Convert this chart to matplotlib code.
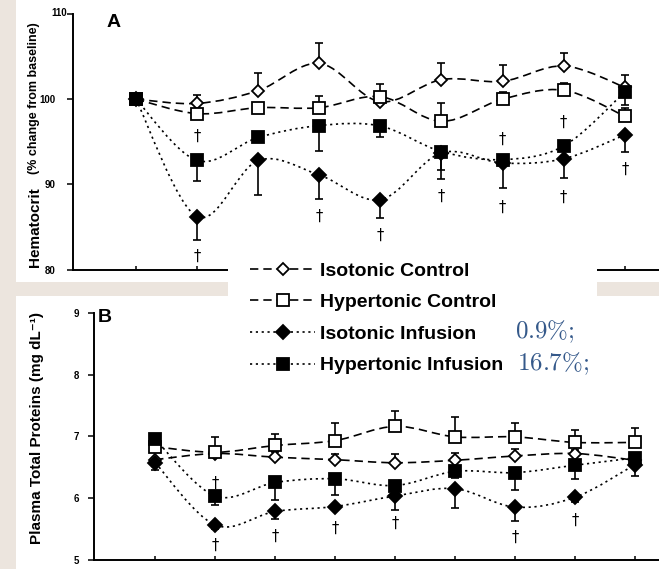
import numpy as np
import matplotlib
matplotlib.use('Agg')
import matplotlib.pyplot as plt
from matplotlib.path import Path
from matplotlib.patches import PathPatch, Rectangle
from matplotlib.lines import Line2D

# sampling times (index of each measurement)
times = list(range(9))

# Panel A: hematocrit, % change from baseline
hct_iso_ctrl = [100, 99.5, 101.0, 104.2, 99.7, 102.3, 102.1, 103.9, 101.4]
hct_iso_ctrl_err = [0, 1.0, 2.1, 2.4, 0.8, 2.0, 1.9, 1.5, 1.4]
hct_hyp_ctrl = [100, 98.3, 99.0, 99.0, 100.3, 97.4, 100.0, 101.05, 98.0]
hct_hyp_ctrl_err = [0, 0.4, 0.4, 1.4, 1.5, 2.2, 0.8, 0.8, 1.0]
hct_iso_inf = [100, 86.2, 92.8, 91.1, 88.2, 93.7, 92.5, 93.0, 95.8]
hct_iso_inf_err = [0, 2.7, 4.1, 2.8, 2.1, 3.1, 2.9, 2.25, 1.95]
hct_hyp_inf = [100, 92.8, 95.5, 96.9, 96.85, 93.85, 92.9, 94.5, 100.85]
hct_hyp_inf_err = [0, 2.4, 0.3, 3.0, 1.3, 2.2, 0.5, 0.5, 1.5]
hct_dagger_x = [1, 1, 3, 4, 5, 6, 6, 7, 7, 8]
hct_dagger_y = [95.6, 81.5, 86.3, 84.0, 88.6, 95.3, 87.3, 97.3, 88.5, 91.8]

# Panel B: plasma total proteins (mg/dL)
tp_iso_ctrl = [6.62, 6.72, 6.66, 6.62, 6.57, 6.61, 6.68, 6.72, 6.61]
tp_iso_ctrl_err = [0, 0, 0.08, 0.1, 0.15, 0.12, 0.12, 0.05, 0.1]
tp_hyp_ctrl = [6.83, 6.74, 6.85, 6.93, 7.16, 6.99, 6.99, 6.90, 6.90]
tp_hyp_ctrl_err = [0.05, 0.24, 0.18, 0.29, 0.25, 0.33, 0.22, 0.20, 0.24]
tp_iso_inf = [6.57, 5.56, 5.78, 5.86, 6.03, 6.15, 5.85, 6.01, 6.54]
tp_iso_inf_err = [0.12, 0.06, 0.13, 0.06, 0.22, 0.31, 0.22, 0.08, 0.19]
tp_hyp_inf = [6.95, 6.03, 6.25, 6.31, 6.20, 6.43, 6.41, 6.53, 6.65]
tp_hyp_inf_err = [0.05, 0.14, 0.28, 0.26, 0.10, 0.10, 0.28, 0.22, 0.10]
tp_dagger_x = [1, 1, 2, 3, 4, 6, 7]
tp_dagger_y = [6.23, 5.23, 5.37, 5.50, 5.59, 5.36, 5.64]

labels = ['Isotonic Control', 'Hypertonic Control', 'Isotonic Infusion', 'Hypertonic Infusion']
conc_labels = [r'$0.9\%;$', r'$16.7\%;$']

DASH = (0, (5, 3))
DOT = (0, (1.3, 2.2))
styles = [
    dict(marker='D', mfc='white', ms=6.5, ls=DASH),
    dict(marker='s', mfc='white', ms=8, ls=DASH),
    dict(marker='D', mfc='black', ms=6.8, ls=DOT),
    dict(marker='s', mfc='black', ms=8.5, ls=DOT),
]
# error bars go up for the controls, down for the infusions
err_up = [True, True, False, False]

BOLD = dict(family=['Liberation Sans', 'DejaVu Sans'], weight='bold')


def smooth_path(x, y):
    pts = np.column_stack([x, y]).astype(float)
    n = len(pts)
    verts = [pts[0]]
    codes = [Path.MOVETO]
    for i in range(n - 1):
        p0 = pts[max(i - 1, 0)]
        p1 = pts[i]
        p2 = pts[i + 1]
        p3 = pts[min(i + 2, n - 1)]
        verts += [p1 + (p2 - p0) / 6, p2 - (p3 - p1) / 6, p2]
        codes += [Path.CURVE4] * 3
    return Path(verts, codes)


def draw_panel(ax, series, errs, dag_x, dag_y, dag_size):
    for k, (vals, err) in enumerate(zip(series, errs)):
        st = styles[k]
        ax.add_patch(PathPatch(smooth_path(times, vals), fill=False, ec='black',
                               lw=1.2, ls=st['ls'], zorder=2 + k * 0.1))
        zeros = [0] * len(err)
        yerr = [zeros, err] if err_up[k] else [err, zeros]
        ax.errorbar(times, vals, yerr=yerr, fmt='none', ecolor='black',
                    elinewidth=1.2, capsize=3, capthick=1.2, zorder=2.5 + k * 0.1)
        ax.plot(times, vals, ls='none', marker=st['marker'], mfc=st['mfc'],
                mec='black', mew=1.3, ms=st['ms'], zorder=3 + k * 0.1)
    for dx, dy in zip(dag_x, dag_y):
        ax.text(dx, dy, '\u2020', ha='center', va='center', fontsize=dag_size,
                family='DejaVu Sans')
    ax.set_facecolor('none')
    for side in ['top', 'right']:
        ax.spines[side].set_visible(False)
    for side in ['left', 'bottom']:
        ax.spines[side].set_linewidth(1.4)
    ax.set_xticks(times)
    ax.tick_params(axis='x', direction='in', length=3, width=1.1, labelbottom=False)


W, H = 659, 569
fig = plt.figure(figsize=(W / 100, H / 100), dpi=100, facecolor='#ece5de')

# white page areas of the scan
fig.add_artist(Rectangle((16 / W, 1 - 282 / H), 1, 282 / H, transform=fig.transFigure,
                         fc='white', ec='none', zorder=-1))
fig.add_artist(Rectangle((16 / W, 0), 1, 1 - 296 / H, transform=fig.transFigure,
                         fc='white', ec='none', zorder=-1))

# Panel A
axA = fig.add_axes([73 / W, 1 - 269.5 / H, 1 - 73 / W, 255.5 / H])
draw_panel(axA, [hct_iso_ctrl, hct_hyp_ctrl, hct_iso_inf, hct_hyp_inf],
           [hct_iso_ctrl_err, hct_hyp_ctrl_err, hct_iso_inf_err, hct_hyp_inf_err],
           hct_dagger_x, hct_dagger_y, 10.5)
axA.set_xlim(-1.03, 8.56)
axA.set_ylim(80, 110)
axA.set_yticks([80, 90, 100, 110])
axA.set_yticklabels(['80', '90', '100', ''], **BOLD)
axA.tick_params(axis='y', direction='out', length=4.3, width=1.1, labelsize=7, pad=8)
axA.annotate('110', xy=(0, 110), xycoords=('axes fraction', 'data'), xytext=(-4, 1),
             textcoords='offset points', ha='right', va='center', fontsize=7, **BOLD)

# Panel B
axB = fig.add_axes([94 / W, 1 - 559.5 / H, 1 - 94 / W, 246.5 / H])
draw_panel(axB, [tp_iso_ctrl, tp_hyp_ctrl, tp_iso_inf, tp_hyp_inf],
           [tp_iso_ctrl_err, tp_hyp_ctrl_err, tp_iso_inf_err, tp_hyp_inf_err],
           tp_dagger_x, tp_dagger_y, 10.5)
axB.set_xlim(-1.02, 8.4)
axB.set_ylim(5, 9)
axB.set_yticks([5, 6, 7, 8, 9])
axB.set_yticklabels(['5', '6', '7', '8', '9'], **BOLD)
axB.tick_params(axis='y', direction='out', length=4, width=1.1, labelsize=7, pad=7)

# axis titles and panel letters
fig.text(35 / W, 1 - 227 / H, 'Hematocrit', rotation=90, ha='center', va='center',
         fontsize=11, **BOLD)
fig.text(34.5 / W, 1 - 98 / H, '(% change from baseline)', rotation=90, ha='center',
         va='center', fontsize=9, **BOLD)
fig.text(37 / W, 1 - 428 / H, 'Plasma Total Proteins (mg dL\u207b\u00b9)', rotation=90,
         ha='center', va='center', fontsize=11, **BOLD)
fig.text(107 / W, 1 - 27 / H, 'A', fontsize=14, va='baseline', **BOLD)
fig.text(98 / W, 1 - 322 / H, 'B', fontsize=14, va='baseline', **BOLD)

# legend on a white patch between the panels
fig.add_artist(Rectangle((228 / W, 1 - 390 / H), (597 - 228) / W, 140 / H,
                         transform=fig.transFigure, fc='white', ec='none', zorder=2))
handles = [Line2D([], [], color='black', lw=1.2, ls=st['ls'], marker=st['marker'],
                  mfc=st['mfc'], mec='black', mew=1.3, ms=st['ms']) for st in styles]
fig.legend(handles, labels, loc='upper left', bbox_to_anchor=(250 / W, 1 - 262 / H),
           frameon=False, prop=dict(family='Liberation Sans', weight='bold', size=14),
           handlelength=3.35, handletextpad=0.26, labelspacing=0.72, borderpad=0,
           borderaxespad=0, numpoints=1)
for lab, x0, yy in zip(conc_labels, [515, 517], [332, 364]):
    fig.text(x0 / W, 1 - yy / H, lab, fontsize=18, color='#35598a', ha='left',
             va='center', math_fontfamily='cm')

fig.savefig('out.png', dpi=100, facecolor=fig.get_facecolor())
